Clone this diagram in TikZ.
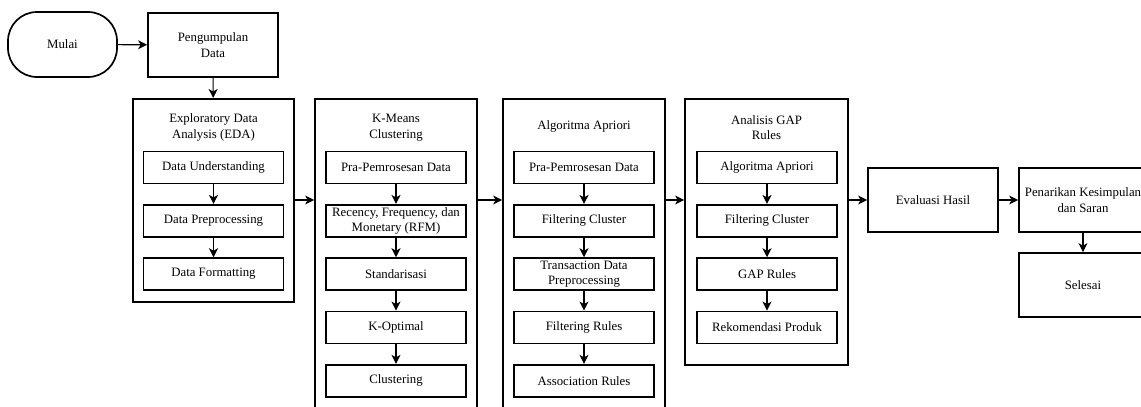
\documentclass[tikz,border=0pt]{standalone}
\usepackage{fontspec}
\setmainfont{Liberation Serif}
\usetikzlibrary{arrows.meta,positioning}

\tikzset{
	txt/.style={font=\fontsize{12.8}{15.5}\selectfont, align=center},
	box/.style={txt, draw, line width=1.7pt, inner sep=0pt},
	stagebox/.style={box, anchor=north},
	subbox/.style={box, minimum width=140pt, minimum height=32pt},
	flow/.style={line width=1.1pt, -{Stealth[length=9pt,width=9pt,inset=2.5pt]}}
}

\begin{document}
\begin{tikzpicture}[x=1pt,y=-1pt]
		\clip (0,0) rectangle (1141,407);
		\useasboundingbox (0,0) rectangle (1141,407);

		% start and data collection
		\node[box, rounded corners=29pt, minimum width=109pt, minimum height=65pt] (mulai) at (62.5,44.5) {Mulai};
		\node[box, minimum width=130pt, minimum height=64pt] (kumpul) at (213,45) {Pengumpulan\\Data};
		\draw[flow] (mulai) -- (kumpul);

		% the four stages
		\node[stagebox, minimum width=161pt, minimum height=203pt] (eda) at (213.5,98) {};
		\node[stagebox, minimum width=162pt, minimum height=330pt] (kmeans) at (396,98) {};
		\node[stagebox, minimum width=162pt, minimum height=330pt] (apriori) at (584,98) {};
		\node[stagebox, minimum width=163pt, minimum height=266pt] (gap) at (766.5,98) {};

		\node[txt] (edaT) at (213.5,127.5) {Exploratory Data\\Analysis (EDA)};
		\node[txt] (kmeansT) at (396,127.5) {K-Means\\Clustering};
		\node[txt] (aprioriT) at (584,126) {Algoritma Apriori};
		\node[txt] (gapT) at (766.5,127.5) {Analisis GAP\\Rules};

		\foreach \i/\t in
			{1/Data Understanding,2/Data Preprocessing,3/Data Formatting}
				\node[subbox] (eda\i) at (213.5,{167.5+53.3*(\i-1)}) {\t};
		\foreach \i/\t in
			{1/Pra-Pemrosesan Data,2/{Recency, Frequency, dan\\Monetary (RFM)},3/Standarisasi,4/K-Optimal,5/Clustering}
				\node[subbox] (kmeans\i) at (396,{167.5+53.3*(\i-1)}) {\t};
		\foreach \i/\t in
			{1/Pra-Pemrosesan Data,2/Filtering Cluster,3/{Transaction Data\\Preprocessing},4/Filtering Rules,5/Association Rules}
				\node[subbox] (apriori\i) at (584,{167.5+53.3*(\i-1)}) {\t};
		\foreach \i/\t in
			{1/Algoritma Apriori,2/Filtering Cluster,3/GAP Rules,4/Rekomendasi Produk}
				\node[subbox] (gap\i) at (767,{167.5+53.3*(\i-1)}) {\t};

		\foreach \a/\b in {1/2,2/3}
			\draw[flow] (eda\a) -- (eda\b);
		\foreach \a/\b in {1/2,2/3,3/4,4/5}
		{
			\draw[flow] (kmeans\a) -- (kmeans\b);
			\draw[flow] (apriori\a) -- (apriori\b);
		}
		\foreach \a/\b in {1/2,2/3,3/4}
			\draw[flow] (gap\a) -- (gap\b);

		% evaluation and conclusion
		\node[box, minimum width=130pt, minimum height=64pt] (evaluasi) at (933,200) {Evaluasi Hasil};
		\node[box, minimum width=128pt, minimum height=64pt] (simpulan) at (1083,200) {Penarikan Kesimpulan\\dan Saran};
		\node[box, minimum width=128pt, minimum height=64pt] (selesai) at (1083,285) {Selesai};

		\coordinate (lvl) at (0,200);
		\draw[flow] (kumpul) -- (eda);
		\draw[flow] (eda.east |- lvl) -- (kmeans.west |- lvl);
		\draw[flow] (kmeans.east |- lvl) -- (apriori.west |- lvl);
		\draw[flow] (apriori.east |- lvl) -- (gap.west |- lvl);
		\draw[flow] (gap.east |- lvl) -- (evaluasi);
		\draw[flow] (evaluasi) -- (simpulan);
		\draw[flow] (simpulan) -- (selesai);
	\end{tikzpicture}
\end{document}
